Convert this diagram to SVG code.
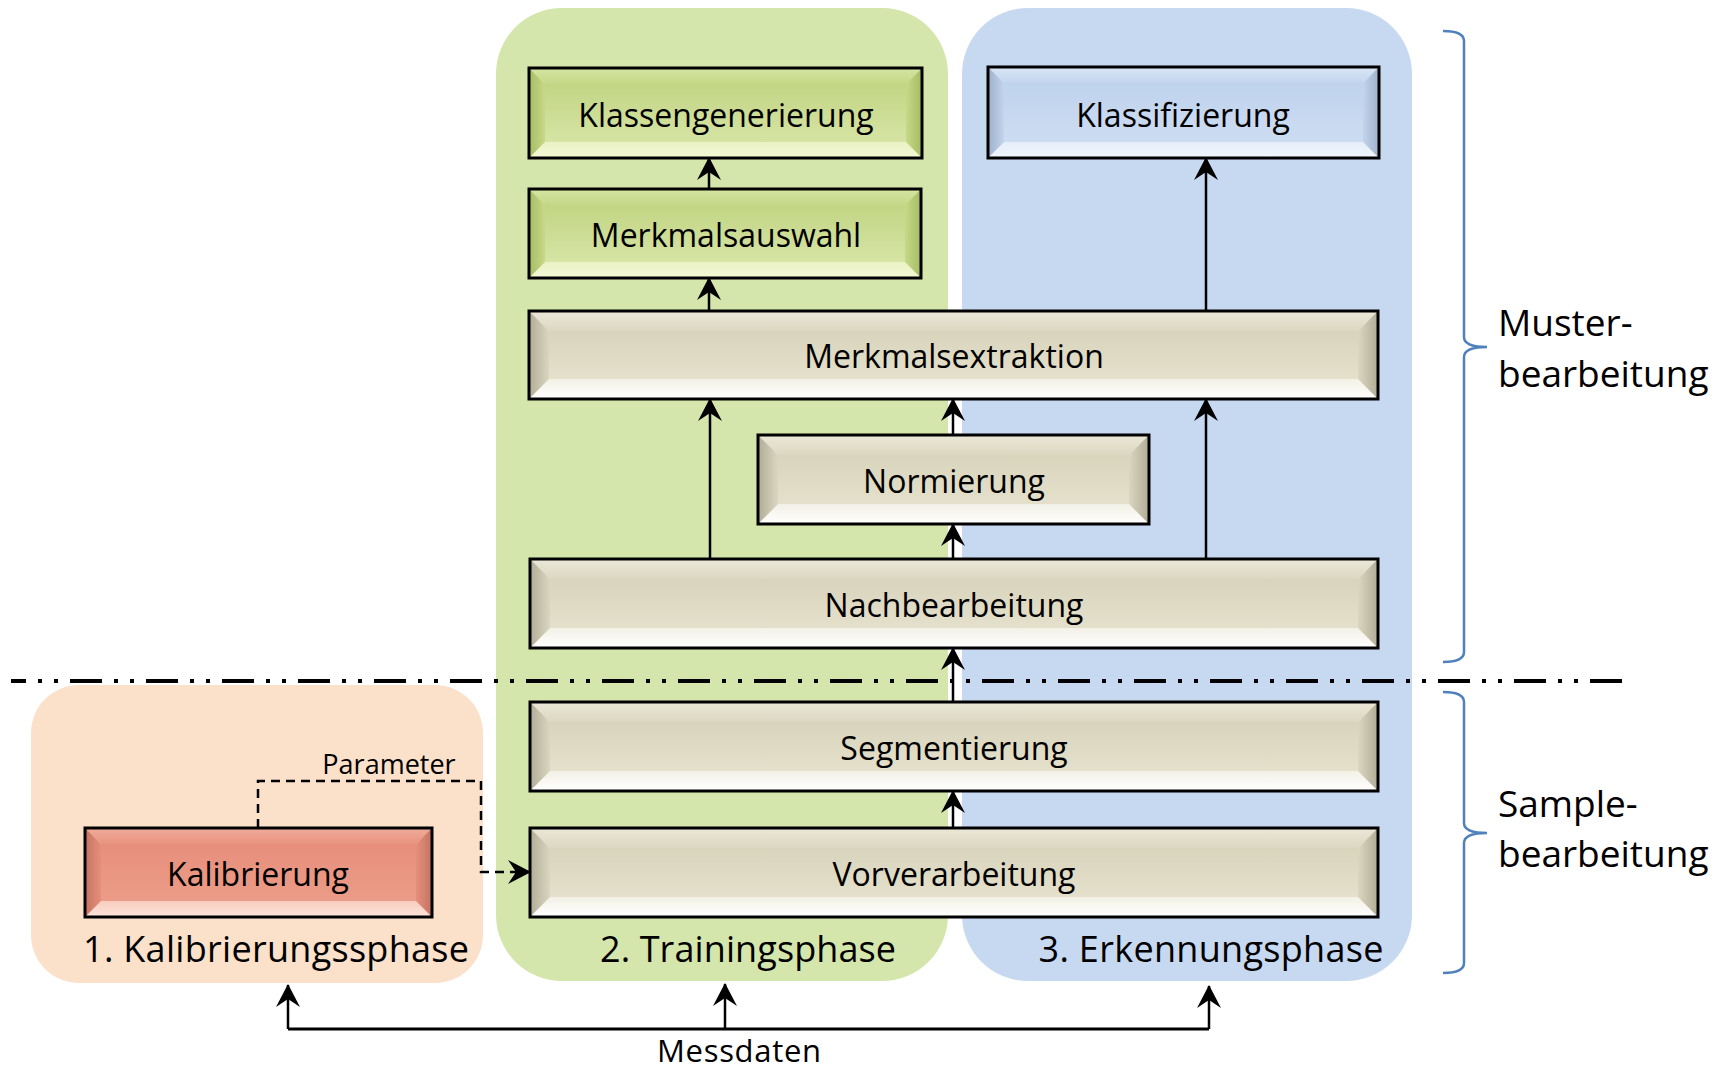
<svg xmlns="http://www.w3.org/2000/svg" width="1722" height="1071" viewBox="0 0 1722 1071">
  <style>
    .phase-bg-cal{fill:#fbe0ca}
    .phase-bg-train{fill:#d4e6ab}
    .phase-bg-rec{fill:#c7d9f1}
    .edge{fill:none;stroke:#000;stroke-width:3}
    .tan .base{fill:url(#tanBot)} .tan .top{fill:url(#tanTop)} .tan .lft{fill:url(#tanL)} .tan .rgt{fill:url(#tanR)} .tan .face{fill:url(#tanFace)}
    .grn .base{fill:url(#grBot)} .grn .top{fill:url(#grTop)} .grn .lft{fill:url(#grL)} .grn .rgt{fill:url(#grR)} .grn .face{fill:url(#grFace)}
    .blu .base{fill:url(#blBot)} .blu .top{fill:url(#blTop)} .blu .lft{fill:url(#blL)} .blu .rgt{fill:url(#blR)} .blu .face{fill:url(#blFace)}
    .sal .base{fill:url(#saBot)} .sal .top{fill:url(#saTop)} .sal .lft{fill:url(#saL)} .sal .rgt{fill:url(#saR)} .sal .face{fill:url(#saFace)}
    text{font-family:"Open Sans","Noto Sans","DejaVu Sans",sans-serif;fill:#000}
    .lbl{font-size:32px;text-anchor:middle}
    .phase{font-size:36px;text-anchor:middle}
    .side{font-size:37px}
    .small{font-size:27px;text-anchor:middle}
    .feed{font-size:31px;text-anchor:middle}
    .flow{fill:none;stroke:#000;stroke-width:2.5;marker-end:url(#head)}
    .dashed{fill:none;stroke:#000;stroke-width:2.5;stroke-dasharray:9 6}
    .sep{fill:none;stroke:#000;stroke-width:4;stroke-dasharray:32 12 4 12 4 12;stroke-dashoffset:17}
    .brace{fill:none;stroke:#4f81bd;stroke-width:2.5}
  </style>
  <defs>
    <marker id="head" markerUnits="userSpaceOnUse" viewBox="-25 -15 30 30" markerWidth="30" markerHeight="30" refX="0" refY="0" orient="auto" overflow="visible">
      <path d="M1,0 L-22,-12 L-14,0 L-22,12 Z" fill="#000"/>
    </marker>
    <!-- bevel shading: tan -->
    <linearGradient id="tanFace" x1="0" y1="0" x2="0" y2="1"><stop offset="0" stop-color="#d9d4bc"/><stop offset="1" stop-color="#e4e0cb"/></linearGradient>
    <linearGradient id="tanTop" x1="0" y1="0" x2="0" y2="1"><stop offset="0" stop-color="#ebe8d9"/><stop offset="1" stop-color="#dcd7c0"/></linearGradient>
    <linearGradient id="tanBot" x1="0" y1="0" x2="0" y2="1"><stop offset="0.75" stop-color="#f1efe3"/><stop offset="1" stop-color="#ffffff"/></linearGradient>
    <linearGradient id="tanL" x1="0" y1="0" x2="1" y2="0"><stop offset="0" stop-color="#b0ac95"/><stop offset="1" stop-color="#dbd6bf"/></linearGradient>
    <linearGradient id="tanR" x1="0" y1="0" x2="1" y2="0"><stop offset="0" stop-color="#dbd6bf"/><stop offset="1" stop-color="#b0ac95"/></linearGradient>
    <!-- bevel shading: green -->
    <linearGradient id="grFace" x1="0" y1="0" x2="0" y2="1"><stop offset="0" stop-color="#c2d584"/><stop offset="1" stop-color="#d6e4a4"/></linearGradient>
    <linearGradient id="grTop" x1="0" y1="0" x2="0" y2="1"><stop offset="0" stop-color="#d5e6a2"/><stop offset="1" stop-color="#c4d787"/></linearGradient>
    <linearGradient id="grBot" x1="0" y1="0" x2="0" y2="1"><stop offset="0.75" stop-color="#e4eebd"/><stop offset="1" stop-color="#f5f9d6"/></linearGradient>
    <linearGradient id="grL" x1="0" y1="0" x2="1" y2="0"><stop offset="0" stop-color="#a5bb64"/><stop offset="1" stop-color="#c6d987"/></linearGradient>
    <linearGradient id="grR" x1="0" y1="0" x2="1" y2="0"><stop offset="0" stop-color="#c6d987"/><stop offset="1" stop-color="#a5bb64"/></linearGradient>
    <!-- bevel shading: blue -->
    <linearGradient id="blFace" x1="0" y1="0" x2="0" y2="1"><stop offset="0" stop-color="#c0d3ed"/><stop offset="1" stop-color="#ccdcf2"/></linearGradient>
    <linearGradient id="blTop" x1="0" y1="0" x2="0" y2="1"><stop offset="0" stop-color="#dae6f6"/><stop offset="1" stop-color="#c3d5ee"/></linearGradient>
    <linearGradient id="blBot" x1="0" y1="0" x2="0" y2="1"><stop offset="0.75" stop-color="#e0eaf8"/><stop offset="1" stop-color="#f1f6fc"/></linearGradient>
    <linearGradient id="blL" x1="0" y1="0" x2="1" y2="0"><stop offset="0" stop-color="#9db0cb"/><stop offset="1" stop-color="#c3d4ec"/></linearGradient>
    <linearGradient id="blR" x1="0" y1="0" x2="1" y2="0"><stop offset="0" stop-color="#c3d4ec"/><stop offset="1" stop-color="#9db0cb"/></linearGradient>
    <!-- bevel shading: salmon -->
    <linearGradient id="saFace" x1="0" y1="0" x2="0" y2="1"><stop offset="0" stop-color="#e78f7c"/><stop offset="1" stop-color="#eb9c88"/></linearGradient>
    <linearGradient id="saTop" x1="0" y1="0" x2="0" y2="1"><stop offset="0" stop-color="#f0ab9b"/><stop offset="1" stop-color="#e8937f"/></linearGradient>
    <linearGradient id="saBot" x1="0" y1="0" x2="0" y2="1"><stop offset="0.75" stop-color="#f6c3b4"/><stop offset="1" stop-color="#fde4da"/></linearGradient>
    <linearGradient id="saL" x1="0" y1="0" x2="1" y2="0"><stop offset="0" stop-color="#c47462"/><stop offset="1" stop-color="#e58f7c"/></linearGradient>
    <linearGradient id="saR" x1="0" y1="0" x2="1" y2="0"><stop offset="0" stop-color="#e58f7c"/><stop offset="1" stop-color="#c47462"/></linearGradient>
  </defs>

  <rect width="1722" height="1071" fill="#fff"/>

  <!-- phase areas -->
  <g id="phases">
    <rect id="phase-calibration" class="phase-bg-cal" x="31" y="685" width="452" height="298" rx="48"/>
    <rect id="phase-training" class="phase-bg-train" x="496" y="8" width="452" height="973" rx="66"/>
    <rect id="phase-recognition" class="phase-bg-rec" x="962" y="8" width="450" height="973" rx="66"/>
    <text class="phase" x="276" y="962" textLength="386">1. Kalibrierungssphase</text>
    <text class="phase" x="748" y="962" textLength="296">2. Trainingsphase</text>
    <text class="phase" x="1211" y="962" textLength="345">3. Erkennungsphase</text>
  </g>

  <!-- boundary between sample and pattern processing -->
  <line class="sep" x1="11" y1="681" x2="1622" y2="681"/>

  <!-- connectors -->
  <g id="connectors">
    <line class="flow" x1="709" y1="189" x2="709" y2="158"/>
    <line class="flow" x1="709" y1="311" x2="709" y2="278"/>
    <line class="flow" x1="710" y1="559" x2="710" y2="399"/>
    <line class="flow" x1="953" y1="559" x2="953" y2="524"/>
    <line class="flow" x1="953" y1="435" x2="953" y2="399"/>
    <line class="flow" x1="1206" y1="559" x2="1206" y2="399"/>
    <line class="flow" x1="1206" y1="311" x2="1206" y2="158"/>
    <line class="flow" x1="953" y1="702" x2="953" y2="648"/>
    <line class="flow" x1="953" y1="828" x2="953" y2="791"/>
    <!-- calibration parameters -->
    <path class="dashed" d="M258,828 V781 H481 V872 H530" marker-end="url(#head)"/>
    <text class="small" x="389" y="774">Parameter</text>
    <!-- measurement data feed -->
    <path fill="none" stroke="#000" stroke-width="3" d="M288,1029 H1209"/>
    <line class="flow" x1="288" y1="1029" x2="288" y2="985"/>
    <line class="flow" x1="725" y1="1029" x2="725" y2="984"/>
    <line class="flow" x1="1209" y1="1029" x2="1209" y2="986"/>
    <text class="feed" x="739" y="1062" textLength="164">Messdaten</text>
  </g>

  <!-- nodes -->
  <g id="n-klassengenerierung" class="grn">
    <rect class="base" x="529" y="68" width="393" height="90"/>
    <polygon class="top" points="529,68 922,68 906,84 545,84"/>
    <polygon class="lft" points="529,68 545,84 545,142 529,158"/>
    <polygon class="rgt" points="922,68 922,158 906,142 906,84"/>
    <rect class="face" x="545" y="84" width="361" height="58"/>
    <rect class="edge" x="529" y="68" width="393" height="90"/>
    <text class="lbl" x="726" y="127">Klassengenerierung</text>
  </g>
  <g id="n-merkmalsauswahl" class="grn">
    <rect class="base" x="529" y="189" width="392" height="89"/>
    <polygon class="top" points="529,189 921,189 905,205 545,205"/>
    <polygon class="lft" points="529,189 545,205 545,262 529,278"/>
    <polygon class="rgt" points="921,189 921,278 905,262 905,205"/>
    <rect class="face" x="545" y="205" width="360" height="57"/>
    <rect class="edge" x="529" y="189" width="392" height="89"/>
    <text class="lbl" x="726" y="247">Merkmalsauswahl</text>
  </g>
  <g id="n-klassifizierung" class="blu">
    <rect class="base" x="988" y="67" width="391" height="91"/>
    <polygon class="top" points="988,67 1379,67 1363,83 1004,83"/>
    <polygon class="lft" points="988,67 1004,83 1004,142 988,158"/>
    <polygon class="rgt" points="1379,67 1379,158 1363,142 1363,83"/>
    <rect class="face" x="1004" y="83" width="359" height="59"/>
    <rect class="edge" x="988" y="67" width="391" height="91"/>
    <text class="lbl" x="1183" y="127">Klassifizierung</text>
  </g>
  <g id="n-merkmalsextraktion" class="tan">
    <rect class="base" x="529" y="311" width="849" height="88"/>
    <polygon class="top" points="529,311 1378,311 1358,331 549,331"/>
    <polygon class="lft" points="529,311 549,331 549,379 529,399"/>
    <polygon class="rgt" points="1378,311 1378,399 1358,379 1358,331"/>
    <rect class="face" x="549" y="331" width="809" height="48"/>
    <rect class="edge" x="529" y="311" width="849" height="88"/>
    <text class="lbl" x="954" y="368">Merkmalsextraktion</text>
  </g>
  <g id="n-normierung" class="tan">
    <rect class="base" x="758" y="435" width="391" height="89"/>
    <polygon class="top" points="758,435 1149,435 1129,455 778,455"/>
    <polygon class="lft" points="758,435 778,455 778,504 758,524"/>
    <polygon class="rgt" points="1149,435 1149,524 1129,504 1129,455"/>
    <rect class="face" x="778" y="455" width="351" height="49"/>
    <rect class="edge" x="758" y="435" width="391" height="89"/>
    <text class="lbl" x="954" y="493">Normierung</text>
  </g>
  <g id="n-nachbearbeitung" class="tan">
    <rect class="base" x="530" y="559" width="848" height="89"/>
    <polygon class="top" points="530,559 1378,559 1358,579 550,579"/>
    <polygon class="lft" points="530,559 550,579 550,628 530,648"/>
    <polygon class="rgt" points="1378,559 1378,648 1358,628 1358,579"/>
    <rect class="face" x="550" y="579" width="808" height="49"/>
    <rect class="edge" x="530" y="559" width="848" height="89"/>
    <text class="lbl" x="954" y="617">Nachbearbeitung</text>
  </g>
  <g id="n-segmentierung" class="tan">
    <rect class="base" x="530" y="702" width="848" height="89"/>
    <polygon class="top" points="530,702 1378,702 1358,722 550,722"/>
    <polygon class="lft" points="530,702 550,722 550,771 530,791"/>
    <polygon class="rgt" points="1378,702 1378,791 1358,771 1358,722"/>
    <rect class="face" x="550" y="722" width="808" height="49"/>
    <rect class="edge" x="530" y="702" width="848" height="89"/>
    <text class="lbl" x="954" y="760">Segmentierung</text>
  </g>
  <g id="n-vorverarbeitung" class="tan">
    <rect class="base" x="530" y="828" width="848" height="89"/>
    <polygon class="top" points="530,828 1378,828 1358,848 550,848"/>
    <polygon class="lft" points="530,828 550,848 550,897 530,917"/>
    <polygon class="rgt" points="1378,828 1378,917 1358,897 1358,848"/>
    <rect class="face" x="550" y="848" width="808" height="49"/>
    <rect class="edge" x="530" y="828" width="848" height="89"/>
    <text class="lbl" x="954" y="886">Vorverarbeitung</text>
  </g>
  <g id="n-kalibrierung" class="sal">
    <rect class="base" x="85" y="828" width="347" height="89"/>
    <polygon class="top" points="85,828 432,828 416,844 101,844"/>
    <polygon class="lft" points="85,828 101,844 101,901 85,917"/>
    <polygon class="rgt" points="432,828 432,917 416,901 416,844"/>
    <rect class="face" x="101" y="844" width="315" height="57"/>
    <rect class="edge" x="85" y="828" width="347" height="89"/>
    <text class="lbl" x="258" y="886">Kalibrierung</text>
  </g>

  <!-- processing level braces -->
  <g id="levels">
    <path class="brace" d="M1443,31 Q1464,31 1464,41 V337 Q1464,347 1487,347 Q1464,347 1464,357 V652 Q1464,662 1443,662"/>
    <text class="side" x="1498" y="336">Muster-</text>
    <text class="side" x="1498" y="387">bearbeitung</text>
    <path class="brace" d="M1443,692 Q1464,692 1464,702 V823 Q1464,833 1487,833 Q1464,833 1464,843 V963 Q1464,973 1443,973"/>
    <text class="side" x="1498" y="817">Sample-</text>
    <text class="side" x="1498" y="867">bearbeitung</text>
  </g>
</svg>
